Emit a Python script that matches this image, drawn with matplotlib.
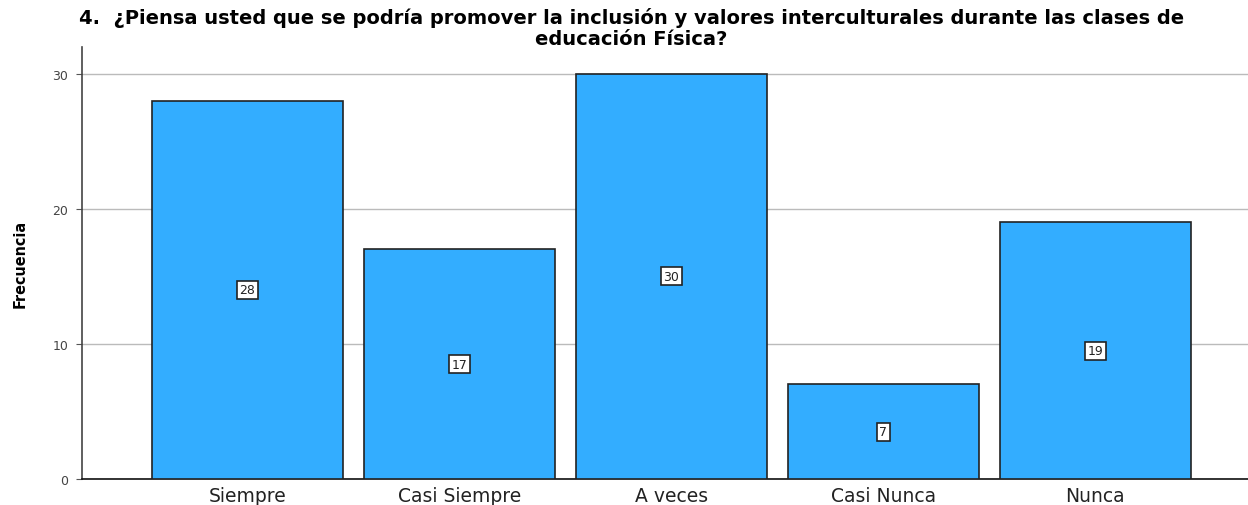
import matplotlib
matplotlib.use("Agg")
import matplotlib.pyplot as plt

# data
categories = ["Siempre", "Casi Siempre", "A veces", "Casi Nunca", "Nunca"]
frecuencia = [28, 17, 30, 7, 19]
yticks = [0, 10, 20, 30]

title_1 = "4.  ¿Piensa usted que se podría promover la inclusión y valores interculturales durante las clases de"
title_2 = "educación Física?"

fig = plt.figure(figsize=(12.48, 5.06), dpi=100)
ax = fig.add_axes([0.0657, 0.0514, 0.9343, 0.854])

x = list(range(len(categories)))
bars = ax.bar(x, frecuencia, width=0.9, color="#33adff", edgecolor="#222222",
              linewidth=1.2, zorder=3)

for b, v in zip(bars, frecuencia):
    ax.text(b.get_x() + b.get_width() / 2, v / 2, str(v), ha="center", va="center",
            fontsize=9, color="#222222", zorder=4,
            bbox=dict(boxstyle="square,pad=0.2", fc="white", ec="#222222", lw=1.2))

ax.set_xlim(-0.78, 4.72)
ax.set_ylim(0, 32)
ax.set_yticks(yticks)
ax.set_yticklabels([str(t) for t in yticks], fontsize=9, color="#444444")
ax.set_xticks(x)
ax.set_xticklabels(categories, fontsize=13.5, color="#222222")
ax.tick_params(axis="x", length=0, pad=5)
ax.tick_params(axis="y", length=4, color="#555555", pad=6)
ax.yaxis.grid(True, color="#bbbbbb", linewidth=1, zorder=0)

for s in ["top", "right"]:
    ax.spines[s].set_visible(False)
ax.spines["left"].set_color("#444444")
ax.spines["bottom"].set_color("#111111")
ax.spines["left"].set_linewidth(1.2)
ax.spines["bottom"].set_linewidth(1.2)

ax.set_ylabel("Frecuencia", fontsize=11.5, fontweight="bold", fontstretch="condensed",
              family="DejaVu Sans", labelpad=18)

fig.text(0.506, 1 - 24 / 506, title_1, ha="center", va="baseline", fontsize=14,
         fontweight="bold", family="DejaVu Sans")
fig.text(0.506, 1 - 45 / 506, title_2, ha="center", va="baseline", fontsize=14,
         fontweight="bold", family="DejaVu Sans")

fig.savefig("out.png", dpi=100)
